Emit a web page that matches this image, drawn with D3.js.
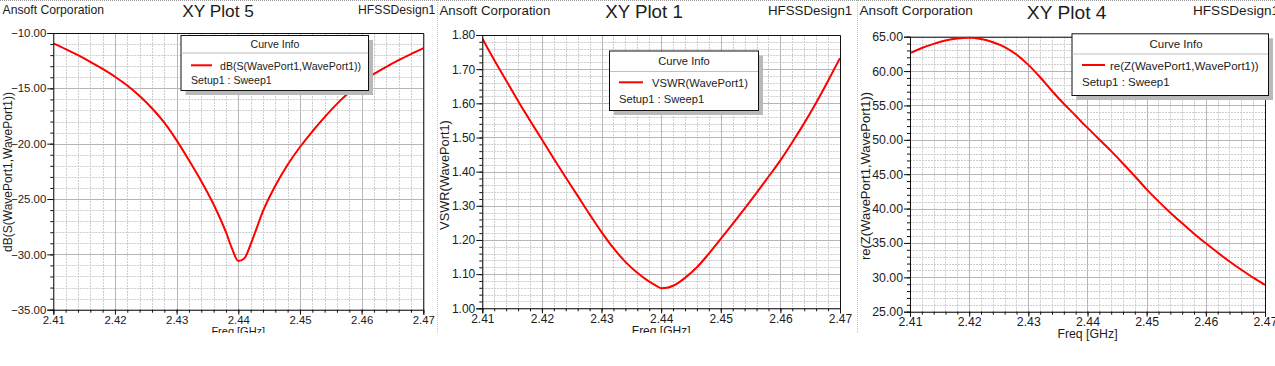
<!DOCTYPE html>
<html>
<head>
<meta charset="utf-8">
<script src="https://cdnjs.cloudflare.com/ajax/libs/d3/7.8.5/d3.min.js"></script>
<style>
  body { margin: 0; background: #fff; }
  svg text { font-family: "Liberation Sans", Arial, sans-serif; fill: #1c1c1c; }
</style>
</head>
<body>
<svg id="chart" width="1275" height="366"></svg>
<script>
// sweep values
var freqGHz = [2.410, 2.412, 2.414, 2.416, 2.418, 2.420, 2.422, 2.424, 2.426, 2.428,
               2.430, 2.432, 2.434, 2.436, 2.438, 2.439, 2.440, 2.441, 2.442, 2.443,
               2.444, 2.446, 2.448, 2.450, 2.452, 2.454, 2.456, 2.458, 2.460, 2.462,
               2.464, 2.466, 2.468, 2.470];
var s11dB = [-10.93, -11.45, -12.0, -12.6, -13.25, -13.95, -14.75, -15.7, -16.8, -18.1,
             -19.7, -21.5, -23.4, -25.5, -28.0, -29.5, -30.6, -30.35, -29.1, -27.6,
             -26.1, -23.8, -21.9, -20.3, -18.9, -17.6, -16.4, -15.35, -14.45, -13.7,
             -13.05, -12.45, -11.9, -11.38];
var vswr = [1.790, 1.727, 1.667, 1.607, 1.550, 1.494, 1.438, 1.383, 1.329, 1.275,
            1.223, 1.176, 1.136, 1.104, 1.078, 1.068, 1.059, 1.060, 1.066, 1.076,
            1.089, 1.120, 1.160, 1.203, 1.247, 1.292, 1.338, 1.385, 1.433, 1.486,
            1.542, 1.602, 1.666, 1.732];
var reZ = [62.6, 63.35, 63.95, 64.45, 64.75, 64.85, 64.65, 64.2, 63.5, 62.4,
           60.9, 59.1, 57.1, 55.25, 53.5, 52.6, 51.75, 50.9, 50.05, 49.2,
           48.35, 46.55, 44.7, 42.8, 41.05, 39.4, 37.85, 36.35, 34.95, 33.6,
           32.3, 31.1, 29.95, 28.9];

var freqTicks = [2.41, 2.42, 2.43, 2.44, 2.45, 2.46, 2.47];
var s11Ticks = [-35, -30, -25, -20, -15, -10];
var vswrTicks = [1.0, 1.1, 1.2, 1.3, 1.4, 1.5, 1.6, 1.7, 1.8];
var reZTicks = [25, 30, 35, 40, 45, 50, 55, 60, 65];

var svg = d3.select('#chart');
var defs = svg.append('defs');

// dotted frame the plots were cut out with
svg.append('line').attr('x1', 0).attr('x2', 1275).attr('y1', 0.5).attr('y2', 0.5)
  .attr('stroke', '#9a9a9a').attr('stroke-dasharray', '1,1');
[437.5, 857.5].forEach(function (xx) {
  svg.append('line').attr('x1', xx).attr('x2', xx).attr('y1', 0).attr('y2', 333)
    .attr('stroke', '#c4c4c4').attr('stroke-dasharray', '1,1');
});

function xyPlot(cfg) {
  defs.append('clipPath').attr('id', 'panel' + cfg.id)
    .append('rect').attr('x', cfg.left).attr('y', 0)
    .attr('width', cfg.right - cfg.left).attr('height', cfg.clipH);
  defs.append('clipPath').attr('id', 'plot' + cfg.id)
    .append('rect').attr('x', cfg.x0).attr('y', cfg.y1)
    .attr('width', cfg.x1 - cfg.x0).attr('height', cfg.y0 - cfg.y1);

  var g = svg.append('g').attr('clip-path', 'url(#panel' + cfg.id + ')');

  var x = d3.scaleLinear().domain(d3.extent(freqTicks)).range([cfg.x0, cfg.x1]);
  var y = d3.scaleLinear().domain(d3.extent(cfg.yTicks)).range([cfg.y0, cfg.y1]);

  var xStep = freqTicks[1] - freqTicks[0];
  var yStep = cfg.yTicks[1] - cfg.yTicks[0];
  var xMinor = d3.range(0, (freqTicks.length - 1) * 5 + 1).map(function (i) { return freqTicks[0] + i * xStep / 5; });
  var yMinor = d3.range(0, (cfg.yTicks.length - 1) * 5 + 1).map(function (i) { return cfg.yTicks[0] + i * yStep / 5; });

  // minor grid (dotted), then major grid
  var grid = g.append('g');
  grid.selectAll('.vm').data(xMinor).enter().append('line')
    .attr('x1', function (d) { return Math.round(x(d)) + 0.5; })
    .attr('x2', function (d) { return Math.round(x(d)) + 0.5; })
    .attr('y1', cfg.y1).attr('y2', cfg.y0)
    .attr('stroke', '#cdcdcd').attr('stroke-dasharray', '2,1');
  grid.selectAll('.hm').data(yMinor).enter().append('line')
    .attr('y1', function (d) { return Math.round(y(d)) + 0.5; })
    .attr('y2', function (d) { return Math.round(y(d)) + 0.5; })
    .attr('x1', cfg.x0).attr('x2', cfg.x1)
    .attr('stroke', '#cdcdcd').attr('stroke-dasharray', '2,1');
  grid.selectAll('.vM').data(freqTicks).enter().append('line')
    .attr('x1', function (d) { return Math.round(x(d)) + 0.5; })
    .attr('x2', function (d) { return Math.round(x(d)) + 0.5; })
    .attr('y1', cfg.y1).attr('y2', cfg.y0)
    .attr('stroke', '#b8b4b8');
  grid.selectAll('.hM').data(cfg.yTicks).enter().append('line')
    .attr('y1', function (d) { return Math.round(y(d)) + 0.5; })
    .attr('y2', function (d) { return Math.round(y(d)) + 0.5; })
    .attr('x1', cfg.x0).attr('x2', cfg.x1)
    .attr('stroke', '#b8b4b8');

  // top and right frame
  g.append('path')
    .attr('d', 'M' + cfg.x0 + ',' + (cfg.y1 + 0.5) + 'H' + (cfg.x1 + 0.5) + 'V' + cfg.y0)
    .attr('fill', 'none').attr('stroke', '#111');

  // the curve
  g.append('path')
    .datum(cfg.values)
    .attr('clip-path', 'url(#plot' + cfg.id + ')')
    .attr('fill', 'none')
    .attr('stroke', '#ff0000')
    .attr('stroke-width', 2)
    .attr('stroke-linejoin', 'round')
    .attr('d', d3.line()
      .curve(d3.curveMonotoneX)
      .x(function (d, i) { return x(freqGHz[i]); })
      .y(function (d) { return y(d); }));

  // axes: major ticks with labels, minor ticks without
  var fmt = d3.format('.2f');
  var yAxis = g.append('g').attr('transform', 'translate(' + cfg.x0 + ',0)')
    .call(d3.axisLeft(y).tickValues(cfg.yTicks).tickSize(6).tickPadding(1).tickFormat(fmt));
  g.append('g').attr('transform', 'translate(' + cfg.x0 + ',0)')
    .call(d3.axisLeft(y).tickValues(yMinor).tickSize(3).tickFormat(''))
    .select('.domain').remove();
  var xAxis = g.append('g').attr('transform', 'translate(0,' + cfg.y0 + ')')
    .call(d3.axisBottom(x).tickValues(freqTicks).tickSize(5).tickPadding(1).tickFormat(fmt));
  g.append('g').attr('transform', 'translate(0,' + cfg.y0 + ')')
    .call(d3.axisBottom(x).tickValues(xMinor).tickSize(3).tickFormat(''))
    .select('.domain').remove();
  g.selectAll('.domain, .tick line').attr('stroke', '#111');
  yAxis.selectAll('text').attr('font-size', cfg.tickFs).attr('fill', '#1c1c1c');
  xAxis.selectAll('text').attr('font-size', cfg.tickFs).attr('fill', '#1c1c1c');
  g.selectAll('.tick text').style('font-family', '"Liberation Sans", Arial, sans-serif');

  // axis titles
  g.append('text').attr('x', (cfg.x0 + cfg.x1) / 2).attr('y', cfg.freqY)
    .attr('text-anchor', 'middle').attr('font-size', cfg.freqFs).text('Freq [GHz]');
  g.append('text')
    .attr('transform', 'translate(' + cfg.yLabX + ',' + cfg.yLabY + ') rotate(-90)')
    .attr('text-anchor', 'middle').attr('font-size', cfg.yLabFs).text(cfg.yLabel);

  // header line
  g.append('text').attr('x', cfg.left + cfg.hdrX).attr('y', cfg.hdrY)
    .attr('font-size', cfg.hdrFs).text('Ansoft Corporation');
  g.append('text').attr('x', cfg.titleX).attr('y', cfg.titleY)
    .attr('text-anchor', 'middle').attr('font-size', cfg.titleFs).text(cfg.title);
  g.append('text').attr('x', cfg.designX).attr('y', cfg.hdrY)
    .attr('font-size', cfg.hdrFs).text('HFSSDesign1');

  // curve info box
  var lg = cfg.legend;
  g.append('rect').attr('x', lg.x0 + 5).attr('y', lg.y0 + 5)
    .attr('width', lg.x1 - lg.x0).attr('height', lg.y1 - lg.y0).attr('fill', '#b9b9b9');
  g.append('rect').attr('x', lg.x0 + 0.5).attr('y', lg.y0 + 0.5)
    .attr('width', lg.x1 - lg.x0).attr('height', lg.y1 - lg.y0)
    .attr('fill', '#fff').attr('stroke', '#111');
  g.append('line').attr('x1', lg.x0 + 1).attr('x2', lg.x1).attr('y1', lg.sepY).attr('y2', lg.sepY)
    .attr('stroke', '#bfbfbf');
  g.append('text').attr('x', lg.titleX).attr('y', lg.titleY).attr('text-anchor', 'middle')
    .attr('font-size', lg.fs).text('Curve Info');
  g.append('line').attr('x1', lg.lineX0).attr('x2', lg.lineX1).attr('y1', lg.lineY).attr('y2', lg.lineY)
    .attr('stroke', '#ff0000').attr('stroke-width', 2);
  g.append('text').attr('x', lg.labX).attr('y', lg.labY).attr('font-size', lg.fs).text(cfg.yLabel);
  g.append('text').attr('x', lg.lineX0).attr('y', lg.setupY).attr('font-size', lg.fs).text('Setup1 : Sweep1');
}

xyPlot({
  id: 1, left: 0, right: 437, clipH: 333,
  x0: 53.3, x1: 423.3, y0: 309.7, y1: 33,
  yTicks: s11Ticks, values: s11dB,
  yLabel: 'dB(S(WavePort1,WavePort1))', yLabX: 12, yLabY: 172, yLabFs: 12,
  tickFs: 11.4, freqY: 335, freqFs: 11,
  hdrX: 2.5, hdrY: 14, hdrFs: 12.2, designX: 358,
  title: 'XY Plot 5', titleX: 218, titleY: 16.5, titleFs: 17.3,
  legend: { x0: 180.5, y0: 35, x1: 368, y1: 90, sepY: 53, fs: 10.6,
            titleX: 275, titleY: 48, lineX0: 191, lineX1: 212, lineY: 65.3,
            labX: 220, labY: 69.5, setupY: 83.5 }
});

xyPlot({
  id: 2, left: 437, right: 857, clipH: 333,
  x0: 482.3, x1: 840, y0: 308.3, y1: 35,
  yTicks: vswrTicks, values: vswr,
  yLabel: 'VSWR(WavePort1)', yLabX: 449, yLabY: 175, yLabFs: 12.8,
  tickFs: 12, freqY: 335, freqFs: 12,
  hdrX: 2.5, hdrY: 14.5, hdrFs: 13.3, designX: 768,
  title: 'XY Plot 1', titleX: 644, titleY: 18, titleFs: 18.7,
  legend: { x0: 609, y0: 50.5, x1: 758, y1: 110, sepY: 71.5, fs: 11.2,
            titleX: 684, titleY: 65, lineX0: 619, lineX1: 643, lineY: 82.3,
            labX: 652, labY: 86.5, setupY: 103 }
});

xyPlot({
  id: 3, left: 857, right: 1275, clipH: 342,
  x0: 910, x1: 1265, y0: 311.7, y1: 36.7,
  yTicks: reZTicks, values: reZ,
  yLabel: 're(Z(WavePort1,WavePort1))', yLabX: 870, yLabY: 176, yLabFs: 13,
  tickFs: 12.3, freqY: 338, freqFs: 12.3,
  hdrX: 2.5, hdrY: 14.5, hdrFs: 13.6, designX: 1193,
  title: 'XY Plot 4', titleX: 1066.7, titleY: 19, titleFs: 19.2,
  legend: { x0: 1071.5, y0: 33.3, x1: 1268, y1: 95, sepY: 54, fs: 11.5,
            titleX: 1176, titleY: 48, lineX0: 1082, lineX1: 1105, lineY: 65,
            labX: 1110, labY: 69.5, setupY: 86 }
});
</script>
</body>
</html>
